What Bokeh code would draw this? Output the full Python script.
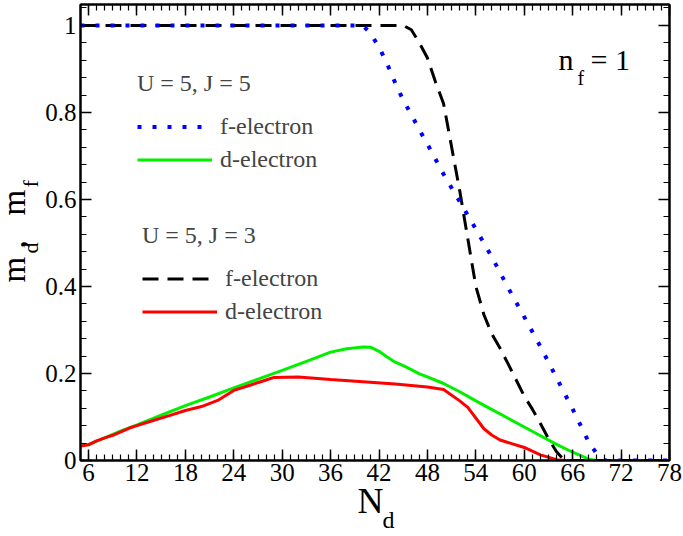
import numpy as np
from bokeh.plotting import figure
from bokeh.models import (Range1d, LinearAxis, SingleIntervalTicker, Legend,
                          LegendItem, Label, Title, CustomJSTickFormatter)
from bokeh.embed import file_html
from bokeh.resources import INLINE

FONT = "Liberation Serif"
NB = "\u00a0"

# ---- data ----
nd_f_j5 = [5, 40, 41, 42, 43, 44, 45, 46, 47, 48, 50, 52, 54, 56, 58, 60, 62, 64,
           66, 68, 69, 70, 78]
m_f_j5 = [1.0, 1.0, 0.98, 0.95, 0.912, 0.868, 0.828, 0.795, 0.76, 0.727, 0.658,
          0.595, 0.532, 0.467, 0.397, 0.33, 0.262, 0.19, 0.118, 0.042, 0.015, 0.0, 0.0]

nd_d_j5 = [5, 6, 8, 10, 12, 15, 18, 21, 24, 27, 30, 33, 36, 38, 40, 41, 42, 43, 44,
           45, 46, 47, 48, 50, 52, 54, 56, 58, 60, 62, 64, 66, 68, 69, 78]
m_d_j5 = [0.034, 0.037, 0.052, 0.068, 0.082, 0.104, 0.126, 0.146, 0.167, 0.187,
          0.207, 0.228, 0.249, 0.257, 0.261, 0.26, 0.251, 0.238, 0.226, 0.218,
          0.209, 0.199, 0.192, 0.177, 0.158, 0.137, 0.117, 0.097, 0.077, 0.057,
          0.037, 0.019, 0.003, 0.0, 0.0]

nd_f_j3 = [5, 45, 46, 47, 48, 49, 50, 51, 52, 53, 54, 55, 56, 57, 58, 59, 60, 61,
           62, 63, 64, 65, 78]
m_f_j3 = [1.0, 1.0, 0.99, 0.96, 0.925, 0.87, 0.82, 0.72, 0.62, 0.51, 0.40, 0.335,
          0.29, 0.258, 0.222, 0.185, 0.148, 0.118, 0.085, 0.05, 0.02, 0.0, 0.0]

nd_d_j3 = [5, 6, 7, 8, 9, 10, 11, 12, 14, 16, 18, 20, 22, 24, 26, 28, 29, 32, 36,
           40, 44, 48, 50, 52, 53, 55, 56, 57, 60, 62, 64, 65, 78]
m_d_j3 = [0.033, 0.036, 0.045, 0.052, 0.058, 0.066, 0.074, 0.08, 0.092, 0.103,
          0.115, 0.124, 0.138, 0.161, 0.173, 0.185, 0.191, 0.192, 0.186, 0.181,
          0.176, 0.169, 0.163, 0.137, 0.122, 0.073, 0.058, 0.047, 0.03, 0.013,
          0.002, 0.0, 0.0]

y_ticks = [0, 0.2, 0.4, 0.6, 0.8, 1.0]
y_tick_labels = ["0", "0.2", "0.4", "0.6", "0.8", "1"]

legend_titles = ["U = 5, J = 5", "U = 5, J = 3"]
series_labels = ["f-electron", "d-electron"]

# ---- figure ----
p = figure(width=683, height=536, x_range=Range1d(5, 78), y_range=Range1d(0, 1.048),
           output_backend="svg", toolbar_location=None,
           min_border_left=80, min_border_right=14, min_border_top=4,
           min_border_bottom=76)
p.grid.visible = False
p.outline_line_color = "black"
p.outline_line_width = 2
p.background_fill_color = "white"
p.border_fill_color = "white"

r_green = p.line(nd_d_j5, m_d_j5, line_color="#00f000", line_width=3)
r_red = p.line(nd_d_j3, m_d_j3, line_color="#ff0000", line_width=3)
r_black = p.line(nd_f_j3, m_f_j3, line_color="black", line_width=3, line_dash="16 9")
r_blue = p.line(nd_f_j5, m_f_j5, line_color="#0000ff", line_width=4, line_dash="4 11")


def style_axis(ax, labels=True):
    ax.axis_line_width = 2
    ax.axis_line_color = "black"
    ax.major_tick_in = 11
    ax.major_tick_out = 0
    ax.minor_tick_in = 6
    ax.minor_tick_out = 0
    ax.major_tick_line_width = 1.5
    ax.minor_tick_line_width = 1.2
    ax.major_tick_line_color = "black"
    ax.minor_tick_line_color = "black"
    ax.major_label_text_font = FONT
    ax.major_label_text_color = "black"
    if labels:
        ax.major_label_text_font_size = "25px"
    else:
        ax.major_label_text_font_size = "1px"
        ax.major_label_standoff = 0
        ax.formatter = CustomJSTickFormatter(code="return ''")


p.xaxis[0].ticker = SingleIntervalTicker(interval=6, num_minor_ticks=6)
p.yaxis[0].ticker = SingleIntervalTicker(interval=0.2, num_minor_ticks=5)
p.yaxis[0].major_label_overrides = {t: s for t, s in zip(y_ticks, y_tick_labels)}
style_axis(p.xaxis[0])
style_axis(p.yaxis[0])
p.xaxis[0].major_label_standoff = 3
p.yaxis[0].major_label_standoff = 4

top_ax = LinearAxis(ticker=SingleIntervalTicker(interval=6, num_minor_ticks=6))
right_ax = LinearAxis(ticker=SingleIntervalTicker(interval=0.2, num_minor_ticks=5))
style_axis(top_ax, labels=False)
style_axis(right_ax, labels=False)
p.add_layout(top_ax, "above")
p.add_layout(right_ax, "right")


def make_legend(title, rends, loc):
    lg = Legend(items=[LegendItem(label=lab, renderers=[r])
                       for lab, r in zip(series_labels, rends)],
                title=title, location=loc)
    lg.title_text_font = FONT
    lg.title_text_font_size = "24px"
    lg.title_text_font_style = "normal"
    lg.title_standoff = 16
    lg.label_text_font = FONT
    lg.label_text_font_size = "24px"
    lg.glyph_width = 75
    lg.glyph_height = 25
    lg.label_height = 25
    lg.label_standoff = 8
    lg.spacing = 6
    lg.padding = 0
    lg.margin = 0
    lg.border_line_alpha = 0
    lg.background_fill_alpha = 0
    return lg


p.add_layout(make_legend(legend_titles[0], [r_blue, r_green], (57, 287)))
p.add_layout(make_legend(legend_titles[1], [r_black, r_red], (62, 135)))


def lab(text, x, y, size):
    p.add_layout(Label(x=x, y=y, x_units="screen", y_units="screen", text=text,
                       text_font=FONT, text_font_size=size, text_color="black",
                       text_align="left", text_baseline="bottom"))


# n_f = 1 (inside the frame)
lab("n", 478, 385, "30px")
lab("f", 497, 372, "20px")
lab("= 1", 510, 385, "30px")


def side_title(text, side, offset, standoff, size, valign):
    t = Title(text=text, align="left", vertical_align=valign, offset=offset,
              standoff=standoff, text_font=FONT, text_font_size=size,
              text_font_style="normal", text_color="black")
    p.add_layout(t, side)


# x axis label N_d (main letter, then subscript)
side_title("N", "below", 277, -6, "36px", "top")
side_title("d", "below", 302, -26, "24px", "top")

# y axis label m_d, m_f (subscript row nearer the axis, main row outside)
side_title("d" + NB * 10 + "f", "left", 207, 0, "22px", "bottom")
side_title("m" + NB + "," + NB * 3 + "m", "left", 178, -33, "33px", "bottom")

open("out.html", "w").write(file_html(p, INLINE))
